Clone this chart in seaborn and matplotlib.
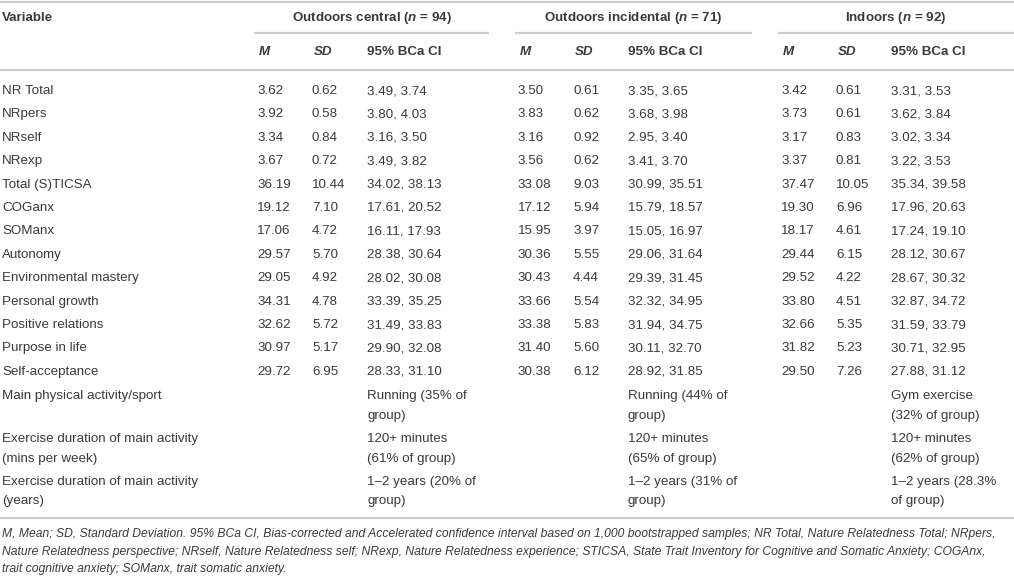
import matplotlib
matplotlib.use("Agg")
import matplotlib.pyplot as plt
import seaborn as sns

# table content
variables = ["NR Total", "NRpers", "NRself", "NRexp", "Total (S)TICSA", "COGanx", "SOManx",
             "Autonomy", "Environmental mastery", "Personal growth", "Positive relations",
             "Purpose in life", "Self-acceptance"]
groups = ["Outdoors central", "Outdoors incidental", "Indoors"]
group_n = [94, 71, 92]

central_m = [3.62, 3.92, 3.34, 3.67, 36.19, 19.12, 17.06, 29.57, 29.05, 34.31, 32.62, 30.97, 29.72]
central_sd = [0.62, 0.58, 0.84, 0.72, 10.44, 7.10, 4.72, 5.70, 4.92, 4.78, 5.72, 5.17, 6.95]
central_lo = [3.49, 3.80, 3.16, 3.49, 34.02, 17.61, 16.11, 28.38, 28.02, 33.39, 31.49, 29.90, 28.33]
central_hi = [3.74, 4.03, 3.50, 3.82, 38.13, 20.52, 17.93, 30.64, 30.08, 35.25, 33.83, 32.08, 31.10]

incidental_m = [3.50, 3.83, 3.16, 3.56, 33.08, 17.12, 15.95, 30.36, 30.43, 33.66, 33.38, 31.40, 30.38]
incidental_sd = [0.61, 0.62, 0.92, 0.62, 9.03, 5.94, 3.97, 5.55, 4.44, 5.54, 5.83, 5.60, 6.12]
incidental_lo = [3.35, 3.68, 2.95, 3.41, 30.99, 15.79, 15.05, 29.06, 29.39, 32.32, 31.94, 30.11, 28.92]
incidental_hi = [3.65, 3.98, 3.40, 3.70, 35.51, 18.57, 16.97, 31.64, 31.45, 34.95, 34.75, 32.70, 31.85]

indoors_m = [3.42, 3.73, 3.17, 3.37, 37.47, 19.30, 18.17, 29.44, 29.52, 33.80, 32.66, 31.82, 29.50]
indoors_sd = [0.61, 0.61, 0.83, 0.81, 10.05, 6.96, 4.61, 6.15, 4.22, 4.51, 5.35, 5.23, 7.26]
indoors_lo = [3.31, 3.62, 3.02, 3.22, 35.34, 17.96, 17.24, 28.12, 28.67, 32.87, 31.59, 30.71, 27.88]
indoors_hi = [3.53, 3.84, 3.34, 3.53, 39.58, 20.63, 19.10, 30.67, 30.32, 34.72, 33.79, 32.95, 31.12]

activity_rows = ["Main physical activity/sport",
                 "Exercise duration of main activity\n(mins per week)",
                 "Exercise duration of main activity\n(years)"]
central_activity = ["Running (35% of\ngroup)", "120+ minutes\n(61% of group)", "1\u20132 years (20% of\ngroup)"]
incidental_activity = ["Running (44% of\ngroup)", "120+ minutes\n(65% of group)", "1\u20132 years (31% of\ngroup)"]
indoors_activity = ["Gym exercise\n(32% of group)", "120+ minutes\n(62% of group)", "1\u20132 years (28.3%\nof group)"]

footnote = [
    "M, Mean; SD, Standard Deviation. 95% BCa CI, Bias-corrected and Accelerated confidence interval based on 1,000 bootstrapped samples; NR Total, Nature Relatedness Total; NRpers,",
    "Nature Relatedness perspective; NRself, Nature Relatedness self; NRexp, Nature Relatedness experience; STICSA, State Trait Inventory for Cognitive and Somatic Anxiety; COGAnx,",
    "trait cognitive anxiety; SOManx, trait somatic anxiety.",
]

sns.set_theme(style="white")
plt.rcParams["font.family"] = ["Liberation Sans", "DejaVu Sans"]
plt.rcParams["mathtext.fontset"] = "custom"
plt.rcParams["mathtext.it"] = "Liberation Sans:italic:bold"
plt.rcParams["mathtext.rm"] = "Liberation Sans:bold"

TXT = "#3a3a3a"
RULE = "#cfcfcf"
FS = 9.6
LINE_H = 19.5
ROW_H = 23.4

fig = plt.figure(figsize=(10.14, 5.77), dpi=100)
ax = fig.add_axes([0, 0, 1, 1])
ax.set_xlim(0, 1014)
ax.set_ylim(577, 0)
ax.axis("off")

group_x = [254, 515, 778]
group_w = [235, 237, 236]
col_off = {"m": 3, "sd": 58, "ci": 113}


def put(x, y, s):
    # multi-line cells are drawn one line at a time
    for i, line in enumerate(s.split("\n")):
        ax.text(x, y + i * LINE_H, line, fontsize=FS, color=TXT, va="center", ha="left")


# rules
ax.axhline(1.5, color=RULE, lw=1.6)
ax.axhline(70, color=RULE, lw=1.6)
ax.axhline(517.5, color=RULE, lw=1.6)
for gx, gw in zip(group_x, group_w):
    ax.plot([gx, gx + gw], [33, 33], color=RULE, lw=1.6, solid_capstyle="butt")

# header
ax.text(2, 18, "Variable", fontsize=FS, fontweight="bold", color=TXT, va="center")
for g, n, gx, gw in zip(groups, group_n, group_x, group_w):
    ax.text(gx + gw / 2, 18, f"{g} ($n$ = {n})", fontsize=FS, fontweight="bold",
            color=TXT, va="center", ha="center")
    ax.text(gx + col_off["m"] + 2, 52, "M", fontsize=FS, fontweight="bold", style="italic", color=TXT, va="center")
    ax.text(gx + col_off["sd"] + 2, 52, "SD", fontsize=FS, fontweight="bold", style="italic", color=TXT, va="center")
    ax.text(gx + col_off["ci"], 52, "95% BCa CI", fontsize=FS, fontweight="bold", color=TXT, va="center")

# numeric rows
data = [(central_m, central_sd, central_lo, central_hi),
        (incidental_m, incidental_sd, incidental_lo, incidental_hi),
        (indoors_m, indoors_sd, indoors_lo, indoors_hi)]
y = 91
for i, var in enumerate(variables):
    put(2, y, var)
    for gx, (m, sd, lo, hi) in zip(group_x, data):
        put(gx + col_off["m"], y, f"{m[i]:.2f}")
        put(gx + col_off["sd"], y, f"{sd[i]:.2f}")
        put(gx + col_off["ci"], y, f"{lo[i]:.2f}, {hi[i]:.2f}")
    y += ROW_H

# activity rows
y += 1
activity = [central_activity, incidental_activity, indoors_activity]
for i, label in enumerate(activity_rows):
    put(2, y, label)
    for gx, act in zip(group_x, activity):
        put(gx + col_off["ci"], y, act[i])
    nlines = max([label.count("\n")] + [a[i].count("\n") for a in activity]) + 1
    y += ROW_H + (nlines - 1) * LINE_H

# footnote
for j, line in enumerate(footnote):
    ax.text(2, 534 + j * 17.5, line, fontsize=8.7, style="italic", color=TXT, va="center")

fig.savefig("out.png", dpi=100, facecolor="white")
